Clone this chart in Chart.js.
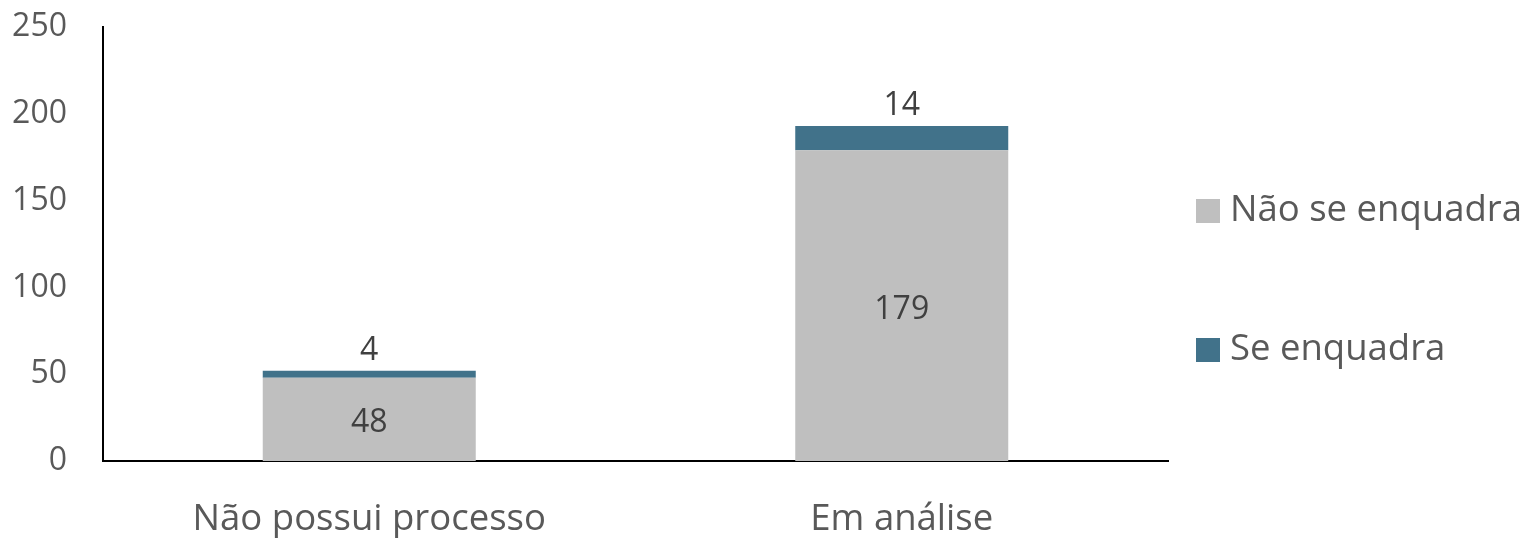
<!DOCTYPE html>
<html lang="pt">
<head>
<meta charset="UTF-8">
<title>Processos</title>
<script src="https://cdn.jsdelivr.net/npm/chart.js"></script>
<style>
  html, body { margin: 0; padding: 0; background: #fff; }
  .wrap { position: relative; width: 1526px; height: 538px; }
</style>
</head>
<body>
<div class="wrap"><canvas id="chart" width="1526" height="538"></canvas></div>
<script>
const categorias = ['Não possui processo', 'Em análise'];
const naoSeEnquadra = [48, 179];
const seEnquadra = [4, 14];
const yTicks = [0, 50, 100, 150, 200, 250];

const FONTE = "'Open Sans', sans-serif";

// rótulos de dados: cinza no centro, azul acima da barra
const rotulos = {
  id: 'rotulos',
  afterDatasetsDraw(chart) {
    const ctx = chart.ctx;
    ctx.save();
    ctx.font = '32px ' + FONTE;
    ctx.fillStyle = '#404040';
    ctx.textAlign = 'center';
    ctx.textBaseline = 'middle';
    chart.getDatasetMeta(0).data.forEach((bar, i) => {
      ctx.fillText(naoSeEnquadra[i], bar.x, (bar.y + bar.base) / 2 + 4);
    });
    chart.getDatasetMeta(1).data.forEach((bar, i) => {
      ctx.fillText(seEnquadra[i], bar.x, bar.y - 20);
    });
    ctx.restore();
  }
};

// legenda à direita, itens bem espaçados
const legenda = {
  id: 'legenda',
  afterDraw(chart) {
    const ctx = chart.ctx;
    const itens = [
      { txt: 'Não se enquadra', cor: '#BFBFBF', y: 211 },
      { txt: 'Se enquadra', cor: '#41728A', y: 350 }
    ];
    ctx.save();
    ctx.font = '36.5px ' + FONTE;
    ctx.textBaseline = 'middle';
    itens.forEach(it => {
      ctx.fillStyle = it.cor;
      ctx.fillRect(1196, it.y - 12, 24, 24);
      ctx.fillStyle = '#595959';
      ctx.fillText(it.txt, 1230, it.y);
    });
    ctx.restore();
  }
};

new Chart(document.getElementById('chart'), {
  type: 'bar',
  data: {
    labels: categorias,
    datasets: [
      { label: 'Não se enquadra', data: naoSeEnquadra, backgroundColor: '#BFBFBF',
        categoryPercentage: 0.8, barPercentage: 0.5 },
      { label: 'Se enquadra', data: seEnquadra, backgroundColor: '#41728A',
        categoryPercentage: 0.8, barPercentage: 0.5 }
    ]
  },
  options: {
    responsive: false,
    animation: false,
    layout: { padding: { top: 27, right: 358, left: 0, bottom: 0 } },
    plugins: { legend: { display: false }, tooltip: { enabled: false } },
    scales: {
      x: {
        stacked: true,
        grid: { display: false, drawTicks: false },
        border: { display: true, color: '#000', width: 2 },
        ticks: { color: '#595959', font: { family: FONTE, size: 36.5 }, padding: 37 },
        afterFit(s) { s.height = 77; s.paddingLeft = 0; s.paddingRight = 0; }
      },
      y: {
        stacked: true,
        min: 0, max: 250,
        afterBuildTicks(s) { s.ticks = yTicks.map(v => ({ value: v })); },
        grid: { display: false, drawTicks: false },
        border: { display: true, color: '#000', width: 2 },
        ticks: { color: '#595959', font: { family: FONTE, size: 32 }, padding: 36 },
        afterFit(s) { s.width = 103; s.paddingTop = 0; s.paddingBottom = 0; }
      }
    }
  },
  plugins: [rotulos, legenda]
});
</script>
</body>
</html>
